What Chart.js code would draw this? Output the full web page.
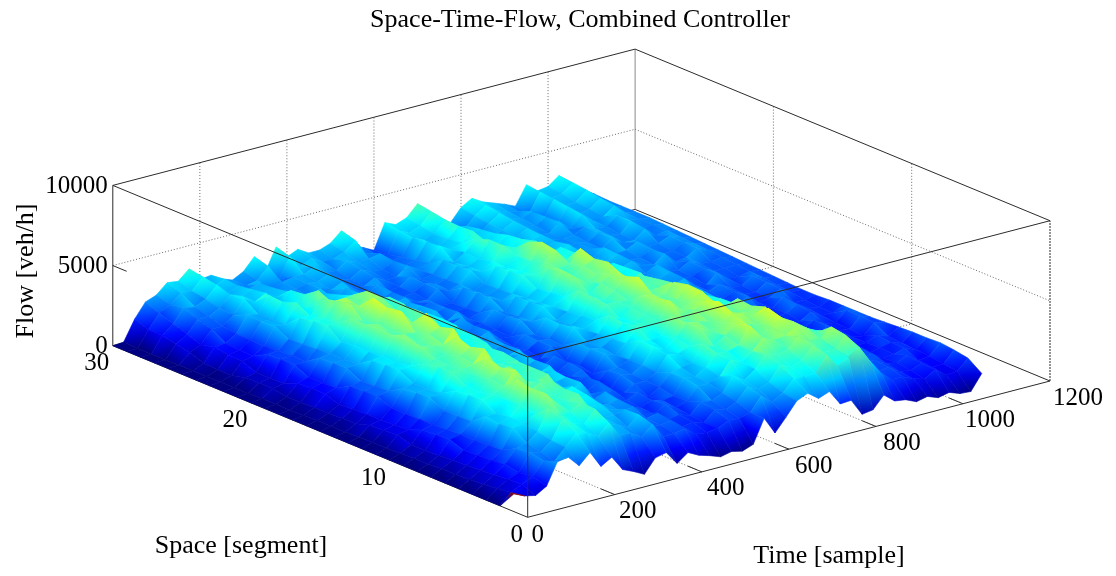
<!DOCTYPE html>
<html>
<head>
<meta charset="utf-8">
<title>Space-Time-Flow</title>
<script src="https://cdn.jsdelivr.net/npm/chart.js@4/dist/chart.umd.min.js"></script>
<style>
  html, body { margin: 0; padding: 0; background: #fff; }
  canvas { display: block; }
</style>
</head>
<body>
<canvas id="c" width="1116" height="576"></canvas>
<script>
// Sample columns of the surface
const times = [0,25,50,75,100,125,150,175,200,225,250,275,300,325,350,375,400,425,450,475,500,525,550,575,600,625,650,675,700,725,750,775,800,825,850,875,900,925,950,975,1000,1025,1050,1075];

// Flow per segment
const flowSeg1 = [1100,800,650,1050,2400,2500,1800,2450,1400,1800,850,550,200,1050,1200,350,850,500,300,50,200,50,300,1750,650,1450,2300,2600,2100,2350,1400,1450,400,500,1250,700,600,300,450,200,350,100,50,1000];
const flowSeg2 = [0,650,1000,1300,2100,1900,2600,3300,3100,2750,3400,2450,2400,2000,2600,1650,1700,1800,1300,1200,1300,1600,1550,1750,2600,2050,2450,3150,3100,3150,4100,3250,3600,4050,3000,2100,1500,1500,1200,1000,1400,900,950,1600];
const flowSeg3 = [0,550,950,1200,2250,2100,2650,3800,3350,3150,3900,2750,2600,2250,2850,1900,1850,1950,1400,1500,1300,1900,1750,2050,2800,2500,2750,3650,3350,3600,4300,3700,3800,4450,3200,2350,1650,1750,1300,1200,1450,1050,1050,1750];
const flowSeg4 = [0,450,850,1350,2150,2300,2850,4100,3600,3550,3950,3150,2650,2650,2800,2100,1900,2050,1500,1600,1400,2050,1950,2250,3150,2700,3200,3950,3750,3900,4500,4100,4050,4600,3450,2600,1800,1800,1450,1300,1600,1100,1200,1850];
const flowSeg5 = [0,400,800,1250,1700,2900,3000,3400,4500,3750,3700,3950,2950,3000,2450,2150,2300,1750,1450,1900,1500,1750,2500,2500,2750,3600,3300,3800,4450,4100,4250,4650,4350,3900,3800,2500,1700,1500,1700,1250,1300,1500,1250,1800];
const flowSeg6 = [0,350,750,1200,1650,2800,3050,3650,4450,4000,3650,3900,3050,3200,2350,2250,2350,1700,1500,1800,1600,1700,2650,2550,2950,3650,3600,3800,4850,4000,4450,4800,4400,3750,3500,2400,1800,1450,1800,1200,1350,1500,1300,1800];
const flowSeg7 = [0,350,700,1150,1600,2900,2900,3550,4650,3800,4100,4100,3200,3350,2550,2200,2500,1650,1600,1900,1500,1900,2600,2750,2900,3900,3550,4050,4600,4400,4200,5050,4150,3650,3350,2250,1700,1550,1700,1300,1300,1600,1350,1750];
const flowSeg8 = [0,300,650,1450,1600,2250,3400,3600,3900,4750,3850,3700,3950,2900,2500,2900,2000,1750,1900,1550,1900,1950,2300,3200,3100,3400,4350,4000,4300,4750,4550,4250,4600,3450,2600,2150,2100,1550,1350,1750,1300,1200,1850,1700];
const flowSeg9 = [0,300,600,1400,1550,2200,3350,3350,4000,4500,4250,3650,3950,3000,2750,2850,2150,1700,2050,1400,2150,2000,2400,3350,3000,3550,4300,4200,4050,5100,4300,4150,4300,3200,2550,2050,2250,1450,1400,1800,1350,1250,1900,1650];
const flowSeg10 = [0,250,600,1350,1500,2200,3250,3400,3800,4800,3800,3900,3950,3050,2650,2950,2050,1850,2000,1400,2050,2050,2350,3400,3200,3350,4350,4000,4400,4800,4450,4100,4400,3150,2450,2000,2300,1400,1450,1800,1400,1300,1900,1650];
const flowSeg11 = [0,200,850,1000,1500,2650,2750,3850,3900,4050,4800,3750,3550,3550,2800,2400,2700,1800,1650,1900,1500,2550,2300,2850,3700,3600,3650,4800,4100,4350,4850,3850,3550,3550,2400,2050,1750,2000,1400,1400,1800,1400,1400,1650];
const flowSeg12 = [0,200,800,950,1450,2600,2650,3850,3750,4150,4550,4050,3500,3700,2700,2500,2650,1950,1600,2000,1650,2500,2400,2800,3600,3450,3750,4550,4250,4150,4900,3750,3350,3500,2350,2100,1800,2050,1400,1550,1900,1500,1400,1650];
const flowSeg13 = [0,200,750,900,1450,2500,2650,3700,3800,3900,4850,3800,3600,3600,2850,2450,2750,1850,1650,2050,1550,2550,2350,2700,3700,3300,3800,4400,4300,4050,4700,3650,3250,3350,2450,2000,1850,2050,1500,1500,2000,1500,1500,1600];
const flowSeg14 = [0,150,480,900,1850,2000,3100,3200,4250,4050,4000,4800,3550,3300,3400,2550,2250,2450,1700,1550,2100,2000,2950,2650,3050,3850,3850,3750,5000,4000,4050,4150,3150,2750,2500,2550,1900,1650,2050,1500,1600,2000,1600,1600];
const flowSeg15 = [0,150,480,850,1800,1950,3100,3050,4350,3900,4300,4550,3750,3250,3550,2500,2300,2400,1750,1700,2100,2050,2800,2550,2950,3950,3600,4000,4700,4200,3900,4000,3100,2650,2400,2650,1850,1750,2000,1650,1600,2050,1700,1650];
const flowSeg16 = [0,150,430,800,1750,1900,3000,3100,4200,4100,4050,5050,3700,3350,3600,2600,2250,2500,1750,1600,2150,1950,2850,2500,2850,4000,3550,4100,4550,4300,3750,3850,3000,2650,2350,2650,1850,1850,2100,1700,1650,2100,1800,1700];
const flowSeg17 = [0,100,430,1100,1300,2350,2450,3000,4250,3950,5000,4100,3950,4000,3100,3250,2400,2050,2350,1700,1650,2500,2250,3000,2800,3250,4300,3850,4150,4700,3650,3250,3500,2600,2450,2200,2450,1850,1700,2250,1750,1700,1850,1750];
const flowSeg18 = [0,100,380,1100,1250,2300,2350,3050,4150,4050,4850,4400,3800,4100,3050,3300,2350,2100,2300,1750,1700,2400,2200,2950,2700,3150,4400,3700,4250,4550,3600,3150,3450,2600,2400,2300,2500,1900,1850,2200,1850,1850,1900,1800];
const flowSeg19 = [0,100,380,1050,1250,2250,2350,2900,4200,3850,5100,4150,4050,4050,3150,3250,2500,2150,2450,1700,1750,2450,2150,2900,2650,3050,4150,3950,4050,4850,3500,3100,3400,2650,2400,2250,2600,2000,1900,2300,1950,1900,2000,1850];
const flowSeg20 = [0,100,550,700,1650,1700,2300,3550,3600,4650,4250,4500,4450,3400,3700,2700,2450,2700,1900,2300,1700,1900,2650,2300,2550,3500,3350,4000,4550,3800,3450,3550,2800,2650,2400,2650,2200,2050,2550,1900,2000,2400,2100,1900];
const flowSeg21 = [0,50,550,650,1650,1700,2250,3500,3450,4400,4400,4050,4500,3300,3750,2650,2500,2650,1950,2200,1750,1850,2600,2250,2500,3450,3250,3700,4700,3700,3350,3500,2750,2600,2450,2700,2150,2150,2500,2000,2050,2400,2150,1950];
const flowSeg22 = [0,50,500,650,1600,1650,2200,3350,3250,4200,3750,3850,3900,3050,3300,2550,2300,2550,1900,2200,1800,1800,2550,2200,2450,3350,3100,3650,4350,3550,3250,3500,2700,2550,2350,2750,2200,2250,2600,2150,2150,2450,2200,2000];
const flowSeg23 = [0,50,280,1000,1150,1600,2650,2600,3750,3200,4150,3150,3050,3300,2550,2950,2250,2100,2300,1850,1800,2300,2050,2250,2950,2700,3150,3950,3600,3350,3700,2800,2650,2950,2350,2350,2150,2650,2200,2150,2700,2100,2250,2050];
const flowSeg24 = [0,50,280,1050,1150,1600,2550,2550,3450,3100,3550,2850,2600,3000,2250,2750,2150,2000,2300,1800,1900,2300,2100,2200,2850,2650,2950,3950,3350,3150,3450,2650,2550,2800,2250,2350,2200,2650,2300,2200,2800,2200,2250,2100];
const flowSeg25 = [0,50,330,1150,1250,1650,2650,2500,3500,2750,3450,2600,2450,2750,2200,2700,2150,1950,2400,1850,1900,2350,2000,2150,2850,2550,3000,3650,3300,2950,3350,2500,2650,2850,2350,2250,2300,2650,2350,2300,2800,2400,2250,2150];
const flowSeg26 = [0,50,650,950,1750,1750,2250,3100,2750,3100,2650,2850,2250,2200,2500,2250,2550,2000,1950,2300,1950,2000,2500,2100,2350,3200,2800,3050,3600,2800,3100,2400,2550,2900,2350,2250,2750,2150,2900,2350,2400,2900,2300,2150];
const flowSeg27 = [0,0,800,1250,2000,2000,2350,3000,2750,2950,2600,2700,2200,2300,2450,2400,2700,2150,2050,2450,2150,2100,2450,2000,2150,3100,2650,2950,3550,2700,3000,2300,2600,2950,2500,2350,2700,2100,3000,2400,2500,3000,2350,2150];
const flowSeg28 = [0,0,1000,1550,2350,2250,2550,3250,2550,2850,2500,2650,2100,2350,2500,2500,2800,2250,2200,2650,2400,2400,2550,1900,2000,3000,2700,2900,3600,2750,2850,2100,2650,3100,2600,2450,2700,2000,3100,2550,2600,3150,2400,2150];
const flowSeg29 = [0,0,1000,1850,2200,2750,2700,3400,2600,2900,2400,2150,2300,3000,2050,3250,2500,2800,2400,2400,2650,3200,2200,1950,1800,3100,2800,3050,3750,2800,2400,2100,2800,3250,2750,2550,2350,2050,3200,2650,2750,3250,2500,2200];
const flowSeg30 = [0,50,1300,2200,2450,3050,2950,3550,2700,2800,2400,2150,2500,3250,2100,3500,2700,3000,2600,2600,2850,3450,2300,2050,1700,3250,2950,3200,3900,2900,2400,2150,2950,3350,2950,2700,2450,2150,3300,2750,2850,3350,2600,2200];

const segments = [1,2,3,4,5,6,7,8,9,10,11,12,13,14,15,16,17,18,19,20,21,22,23,24,25,26,27,28,29,30];
const flowRows = [flowSeg1,flowSeg2,flowSeg3,flowSeg4,flowSeg5,flowSeg6,flowSeg7,flowSeg8,flowSeg9,flowSeg10,flowSeg11,flowSeg12,flowSeg13,flowSeg14,flowSeg15,flowSeg16,flowSeg17,flowSeg18,flowSeg19,flowSeg20,flowSeg21,flowSeg22,flowSeg23,flowSeg24,flowSeg25,flowSeg26,flowSeg27,flowSeg28,flowSeg29,flowSeg30];

// Tick labels
const timeTicks = [0,200,400,600,800,1000,1200];
const spaceTicks = [0,10,20,30];
const flowTicks = [0,5000,10000];

const TIME_MAX = 1200, SPACE_MAX = 30, FLOW_MAX = 10000;
const COLOR_MAX = 8700;
const SERIF = '"Liberation Serif", "Times New Roman", serif';

// Fixed axonometric view of the axes box, result is in canvas pixels
function project(t, s, f) {
  return {
    x: 527.7 + t * 0.43525 - s * 13.83,
    y: 517.3 - t * 0.11358 - s * 5.72 - f * 0.01603
  };
}

function jet(f) {
  const v = Math.min(1, Math.max(0, f / COLOR_MAX));
  const r = Math.min(1, Math.max(0, 1.5 - Math.abs(4 * v - 3)));
  const g = Math.min(1, Math.max(0, 1.5 - Math.abs(4 * v - 2)));
  const b = Math.min(1, Math.max(0, 1.5 - Math.abs(4 * v - 1)));
  return 'rgb(' + Math.round(r * 255) + ',' + Math.round(g * 255) + ',' + Math.round(b * 255) + ')';
}

const ctx = document.getElementById('c').getContext('2d');

// Colour runs from the lowest to the highest corner of the cell
function cellGradient(corners, hot) {
  let lo = corners[0], hi = corners[0];
  corners.forEach(c => {
    if (c.f < lo.f) lo = c;
    if (c.f > hi.f) hi = c;
  });
  if (hi.f === lo.f) return jet(lo.f);
  const g = ctx.createLinearGradient(lo.x, lo.y, hi.x, hi.y);
  g.addColorStop(0, jet(lo.f));
  g.addColorStop(0.5, jet((lo.f + hi.f) / 2));
  g.addColorStop(1, hot ? '#8c0a0a' : jet(hi.f));
  return g;
}

function lineSet(a, b, color, width, dash) {
  return {
    data: [a, b],
    showLine: true,
    fill: false,
    borderColor: color,
    borderWidth: width,
    borderDash: dash || [],
    pointRadius: 0
  };
}

// First dataset is painted last, so: front box edges, surface front to back, then walls
const frontLines = [];
const surface = [];
const backLines = [];
const DOT = [1, 2];
const BOX = '#2b2b2b';

// box edges in front of the surface
frontLines.push(lineSet(project(0, 0, 0), project(0, 0, FLOW_MAX), BOX, 1));
frontLines.push(lineSet(project(0, 0, FLOW_MAX), project(0, SPACE_MAX, FLOW_MAX), BOX, 1));
frontLines.push(lineSet(project(0, 0, FLOW_MAX), project(TIME_MAX, 0, FLOW_MAX), BOX, 1));
frontLines.push(lineSet(project(0, 0, 0), project(TIME_MAX, 0, 0), BOX, 1));
frontLines.push(lineSet(project(0, SPACE_MAX, 0), project(0, SPACE_MAX, FLOW_MAX), BOX, 1));
frontLines.push(lineSet(project(TIME_MAX, 0, 0), project(TIME_MAX, 0, FLOW_MAX), BOX, 1, [2, 1]));

for (let i = 0; i < segments.length - 1; i++) {
  for (let j = 0; j < times.length - 1; j++) {
    const corners = [[i, j], [i, j + 1], [i + 1, j + 1], [i + 1, j]].map(([r, c]) => {
      const f = flowRows[r][c];
      const p = project(times[c], segments[r], f);
      return { x: p.x, y: p.y, f: f };
    });
    const paint = cellGradient(corners, i === 0 && j === 0);
    surface.push({
      data: corners.concat([corners[0]]).map(p => ({ x: p.x, y: p.y })),
      showLine: true,
      fill: 'shape',
      backgroundColor: paint,
      borderColor: paint,
      borderWidth: 0.6,
      pointRadius: 0
    });
  }
}

// back walls and floor
backLines.push(lineSet(project(0, SPACE_MAX, FLOW_MAX), project(TIME_MAX, SPACE_MAX, FLOW_MAX), BOX, 1));
backLines.push(lineSet(project(TIME_MAX, SPACE_MAX, FLOW_MAX), project(TIME_MAX, 0, FLOW_MAX), BOX, 1));
backLines.push(lineSet(project(TIME_MAX, SPACE_MAX, 0), project(TIME_MAX, SPACE_MAX, FLOW_MAX), '#888', 1));
backLines.push(lineSet(project(TIME_MAX, SPACE_MAX, 0), project(TIME_MAX, 0, 0), BOX, 1));
backLines.push(lineSet(project(0, SPACE_MAX, 0), project(TIME_MAX, SPACE_MAX, 0), BOX, 1));
backLines.push(lineSet(project(0, 0, 0), project(0, SPACE_MAX, 0), BOX, 1));

timeTicks.slice(1, -1).forEach(t => {
  backLines.push(lineSet(project(t, 0, 0), project(t, SPACE_MAX, 0), '#444', 0.8, DOT));
  backLines.push(lineSet(project(t, SPACE_MAX, 0), project(t, SPACE_MAX, FLOW_MAX), '#444', 0.8, DOT));
  backLines.push(lineSet(project(t, 0, 0), project(t, 1, 0), BOX, 1));
});
spaceTicks.slice(1, -1).forEach(s => {
  backLines.push(lineSet(project(0, s, 0), project(TIME_MAX, s, 0), '#444', 0.8, DOT));
  backLines.push(lineSet(project(TIME_MAX, s, 0), project(TIME_MAX, s, FLOW_MAX), '#444', 0.8, DOT));
});
flowTicks.slice(1, -1).forEach(f => {
  backLines.push(lineSet(project(0, SPACE_MAX, f), project(TIME_MAX, SPACE_MAX, f), '#444', 0.8, DOT));
  backLines.push(lineSet(project(TIME_MAX, SPACE_MAX, f), project(TIME_MAX, 0, f), '#444', 0.8, DOT));
  backLines.push(lineSet(project(0, SPACE_MAX, f), project(0, SPACE_MAX - 1, f), BOX, 1));
});

// Texts go through the same scales as the marks
const axisText = {
  id: 'axisText',
  afterDraw(chart) {
    const { ctx: c, scales: { x, y } } = chart;
    const put = (text, px, py, align, size) => {
      c.font = size + 'px ' + SERIF;
      c.textAlign = align;
      c.textBaseline = 'middle';
      c.fillText(text, x.getPixelForValue(px), y.getPixelForValue(py));
    };
    c.save();
    c.fillStyle = '#000';
    put('Space-Time-Flow, Combined Controller', 580, 20, 'center', 26);
    timeTicks.forEach(t => {
      const p = project(t, 0, 0);
      put(String(t), p.x + (t === 0 ? 10 : 22 + t * 0.005), p.y + (t === 0 ? 18 : 17), 'center', 25);
    });
    spaceTicks.forEach(s => {
      const p = project(0, s, 0);
      put(String(s), p.x + (s === 0 ? -11 : -16), p.y + 18, 'center', 25);
    });
    flowTicks.forEach(f => {
      const p = project(0, SPACE_MAX, f);
      put(String(f), p.x - 5, p.y + 1, 'right', 25);
    });
    put('Space [segment]', 241, 546, 'center', 26);
    put('Time [sample]', 829, 556, 'center', 26);
    c.translate(26, 271);
    c.rotate(-Math.PI / 2);
    c.font = '26px ' + SERIF;
    c.textAlign = 'center';
    c.fillText('Flow [veh/h]', 0, 0);
    c.restore();
  }
};

new Chart(ctx, {
  type: 'scatter',
  data: { datasets: frontLines.concat(surface, backLines) },
  plugins: [axisText],
  options: {
    responsive: false,
    animation: false,
    events: [],
    layout: { padding: 0 },
    plugins: { legend: { display: false }, tooltip: { enabled: false } },
    scales: {
      x: { type: 'linear', min: 0, max: 1116, display: false },
      y: { type: 'linear', min: 0, max: 576, reverse: true, display: false }
    }
  }
});
</script>
</body>
</html>
